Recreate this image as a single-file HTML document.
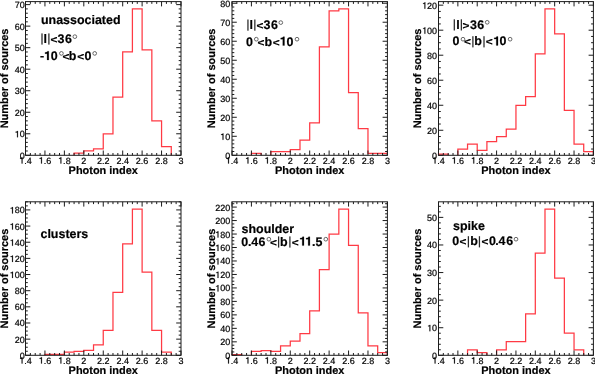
<!DOCTYPE html><html><head><meta charset="utf-8"><style>html,body{margin:0;padding:0;background:#fff;}svg{display:block;will-change:transform;}text{font-family:"Liberation Sans",sans-serif;text-rendering:geometricPrecision;stroke:#000;stroke-width:0.2px;}text.b{stroke-width:0.2px;}</style></head><body>
<svg width="595" height="374" viewBox="0 0 595 374">
<rect width="595" height="374" fill="#fff"/>
<path d="M74.09 155.30 L74.09 153.15 L83.81 153.15 L83.81 150.99 L93.53 150.99 L93.53 148.84 L103.25 148.84 L103.25 133.77 L112.97 133.77 L112.97 97.18 L122.69 97.18 L122.69 51.97 L132.41 51.97 L132.41 8.92 L142.12 8.92 L142.12 49.82 L151.84 49.82 L151.84 120.86 L161.56 120.86 L161.56 146.69 L171.28 146.69 L171.28 155.30" fill="none" stroke="#ff3a44" stroke-width="1.25"/>
<path d="M25.50 155.30 V150.50 M25.50 1.60 V6.40 M30.36 155.30 V153.00 M30.36 1.60 V3.90 M35.22 155.30 V153.00 M35.22 1.60 V3.90 M40.08 155.30 V153.00 M40.08 1.60 V3.90 M44.94 155.30 V150.50 M44.94 1.60 V6.40 M49.80 155.30 V153.00 M49.80 1.60 V3.90 M54.66 155.30 V153.00 M54.66 1.60 V3.90 M59.52 155.30 V153.00 M59.52 1.60 V3.90 M64.38 155.30 V150.50 M64.38 1.60 V6.40 M69.23 155.30 V153.00 M69.23 1.60 V3.90 M74.09 155.30 V153.00 M74.09 1.60 V3.90 M78.95 155.30 V153.00 M78.95 1.60 V3.90 M83.81 155.30 V150.50 M83.81 1.60 V6.40 M88.67 155.30 V153.00 M88.67 1.60 V3.90 M93.53 155.30 V153.00 M93.53 1.60 V3.90 M98.39 155.30 V153.00 M98.39 1.60 V3.90 M103.25 155.30 V150.50 M103.25 1.60 V6.40 M108.11 155.30 V153.00 M108.11 1.60 V3.90 M112.97 155.30 V153.00 M112.97 1.60 V3.90 M117.83 155.30 V153.00 M117.83 1.60 V3.90 M122.69 155.30 V150.50 M122.69 1.60 V6.40 M127.55 155.30 V153.00 M127.55 1.60 V3.90 M132.41 155.30 V153.00 M132.41 1.60 V3.90 M137.27 155.30 V153.00 M137.27 1.60 V3.90 M142.12 155.30 V150.50 M142.12 1.60 V6.40 M146.98 155.30 V153.00 M146.98 1.60 V3.90 M151.84 155.30 V153.00 M151.84 1.60 V3.90 M156.70 155.30 V153.00 M156.70 1.60 V3.90 M161.56 155.30 V150.50 M161.56 1.60 V6.40 M166.42 155.30 V153.00 M166.42 1.60 V3.90 M171.28 155.30 V153.00 M171.28 1.60 V3.90 M176.14 155.30 V153.00 M176.14 1.60 V3.90 M181.00 155.30 V150.50 M181.00 1.60 V6.40 M25.50 155.30 H30.30 M181.00 155.30 H176.20 M25.50 150.99 H27.80 M181.00 150.99 H178.70 M25.50 146.69 H27.80 M181.00 146.69 H178.70 M25.50 142.38 H27.80 M181.00 142.38 H178.70 M25.50 138.08 H27.80 M181.00 138.08 H178.70 M25.50 133.77 H30.30 M181.00 133.77 H176.20 M25.50 129.47 H27.80 M181.00 129.47 H178.70 M25.50 125.16 H27.80 M181.00 125.16 H178.70 M25.50 120.86 H27.80 M181.00 120.86 H178.70 M25.50 116.55 H27.80 M181.00 116.55 H178.70 M25.50 112.25 H30.30 M181.00 112.25 H176.20 M25.50 107.94 H27.80 M181.00 107.94 H178.70 M25.50 103.64 H27.80 M181.00 103.64 H178.70 M25.50 99.33 H27.80 M181.00 99.33 H178.70 M25.50 95.03 H27.80 M181.00 95.03 H178.70 M25.50 90.72 H30.30 M181.00 90.72 H176.20 M25.50 86.41 H27.80 M181.00 86.41 H178.70 M25.50 82.11 H27.80 M181.00 82.11 H178.70 M25.50 77.80 H27.80 M181.00 77.80 H178.70 M25.50 73.50 H27.80 M181.00 73.50 H178.70 M25.50 69.19 H30.30 M181.00 69.19 H176.20 M25.50 64.89 H27.80 M181.00 64.89 H178.70 M25.50 60.58 H27.80 M181.00 60.58 H178.70 M25.50 56.28 H27.80 M181.00 56.28 H178.70 M25.50 51.97 H27.80 M181.00 51.97 H178.70 M25.50 47.67 H30.30 M181.00 47.67 H176.20 M25.50 43.36 H27.80 M181.00 43.36 H178.70 M25.50 39.06 H27.80 M181.00 39.06 H178.70 M25.50 34.75 H27.80 M181.00 34.75 H178.70 M25.50 30.45 H27.80 M181.00 30.45 H178.70 M25.50 26.14 H30.30 M181.00 26.14 H176.20 M25.50 21.84 H27.80 M181.00 21.84 H178.70 M25.50 17.53 H27.80 M181.00 17.53 H178.70 M25.50 13.22 H27.80 M181.00 13.22 H178.70 M25.50 8.92 H27.80 M181.00 8.92 H178.70 M25.50 4.61 H30.30 M181.00 4.61 H176.20" fill="none" stroke="#1c1c1c" stroke-width="1.0"/>
<rect x="25.5" y="1.6" width="155.50" height="153.70" fill="none" stroke="#1c1c1c" stroke-width="1.0"/>
<text x="24.25 26.75" y="163.50" font-size="9.0">.4</text><path d="M21.64 163.50 L22.48 163.50 L22.48 157.17 L21.82 157.17 L21.64 157.52 L21.27 157.81 L20.77 157.95 L20.15 157.99 L20.15 158.64 L21.64 158.64 Z" fill="#000" stroke="#000" stroke-width="0.2"/>
<text x="43.69 46.19" y="163.50" font-size="9.0">.6</text><path d="M41.08 163.50 L41.91 163.50 L41.91 157.17 L41.26 157.17 L41.08 157.52 L40.71 157.81 L40.21 157.95 L39.59 157.99 L39.59 158.64 L41.08 158.64 Z" fill="#000" stroke="#000" stroke-width="0.2"/>
<text x="63.12 65.63" y="163.50" font-size="9.0">.8</text><path d="M60.51 163.50 L61.35 163.50 L61.35 157.17 L60.69 157.17 L60.51 157.52 L60.14 157.81 L59.65 157.95 L59.03 157.99 L59.03 158.64 L60.51 158.64 Z" fill="#000" stroke="#000" stroke-width="0.2"/>
<text x="83.81" y="163.50" font-size="9.0" text-anchor="middle">2</text>
<text x="103.25" y="163.50" font-size="9.0" text-anchor="middle">2.2</text>
<text x="122.69" y="163.50" font-size="9.0" text-anchor="middle">2.4</text>
<text x="142.12" y="163.50" font-size="9.0" text-anchor="middle">2.6</text>
<text x="161.56" y="163.50" font-size="9.0" text-anchor="middle">2.8</text>
<text x="181.00" y="163.50" font-size="9.0" text-anchor="middle">3</text>
<text x="24.70" y="158.80" font-size="9.0" text-anchor="end">0</text>
<text x="19.70" y="137.27" font-size="9.0">0</text><path d="M17.09 137.27 L17.92 137.27 L17.92 130.95 L17.27 130.95 L17.09 131.30 L16.72 131.59 L16.22 131.72 L15.60 131.77 L15.60 132.41 L17.09 132.41 Z" fill="#000" stroke="#000" stroke-width="0.2"/>
<text x="24.70" y="115.75" font-size="9.0" text-anchor="end">20</text>
<text x="24.70" y="94.22" font-size="9.0" text-anchor="end">30</text>
<text x="24.70" y="72.69" font-size="9.0" text-anchor="end">40</text>
<text x="24.70" y="51.17" font-size="9.0" text-anchor="end">50</text>
<text x="24.70" y="29.64" font-size="9.0" text-anchor="end">60</text>
<text x="24.70" y="8.11" font-size="9.0" text-anchor="end">70</text>
<text x="103.25" y="174.30" font-size="10.95" font-weight="bold" class="b" text-anchor="middle">Photon index</text>
<text transform="translate(8.30,78.45) rotate(-90)" x="0" y="0" font-size="10.95" font-weight="bold" class="b" text-anchor="middle">Number of sources</text>
<path d="M251.42 155.30 L251.42 153.40 L261.14 153.40 L261.14 155.30 M270.85 155.30 L270.85 151.50 L280.56 151.50 L280.56 151.50 L290.27 151.50 L290.27 149.60 L299.99 149.60 L299.99 140.09 L309.70 140.09 L309.70 122.98 L319.41 122.98 L319.41 46.94 L329.12 46.94 L329.12 10.82 L338.84 10.82 L338.84 8.92 L348.55 8.92 L348.55 92.57 L358.26 92.57 L358.26 128.69 L367.97 128.69 L367.97 153.40 L377.69 153.40 L377.69 153.40 L387.40 153.40 L387.40 155.30" fill="none" stroke="#ff3a44" stroke-width="1.25"/>
<path d="M232.00 155.30 V150.50 M232.00 1.60 V6.40 M236.86 155.30 V153.00 M236.86 1.60 V3.90 M241.71 155.30 V153.00 M241.71 1.60 V3.90 M246.57 155.30 V153.00 M246.57 1.60 V3.90 M251.42 155.30 V150.50 M251.42 1.60 V6.40 M256.28 155.30 V153.00 M256.28 1.60 V3.90 M261.14 155.30 V153.00 M261.14 1.60 V3.90 M265.99 155.30 V153.00 M265.99 1.60 V3.90 M270.85 155.30 V150.50 M270.85 1.60 V6.40 M275.71 155.30 V153.00 M275.71 1.60 V3.90 M280.56 155.30 V153.00 M280.56 1.60 V3.90 M285.42 155.30 V153.00 M285.42 1.60 V3.90 M290.27 155.30 V150.50 M290.27 1.60 V6.40 M295.13 155.30 V153.00 M295.13 1.60 V3.90 M299.99 155.30 V153.00 M299.99 1.60 V3.90 M304.84 155.30 V153.00 M304.84 1.60 V3.90 M309.70 155.30 V150.50 M309.70 1.60 V6.40 M314.56 155.30 V153.00 M314.56 1.60 V3.90 M319.41 155.30 V153.00 M319.41 1.60 V3.90 M324.27 155.30 V153.00 M324.27 1.60 V3.90 M329.12 155.30 V150.50 M329.12 1.60 V6.40 M333.98 155.30 V153.00 M333.98 1.60 V3.90 M338.84 155.30 V153.00 M338.84 1.60 V3.90 M343.69 155.30 V153.00 M343.69 1.60 V3.90 M348.55 155.30 V150.50 M348.55 1.60 V6.40 M353.41 155.30 V153.00 M353.41 1.60 V3.90 M358.26 155.30 V153.00 M358.26 1.60 V3.90 M363.12 155.30 V153.00 M363.12 1.60 V3.90 M367.97 155.30 V150.50 M367.97 1.60 V6.40 M372.83 155.30 V153.00 M372.83 1.60 V3.90 M377.69 155.30 V153.00 M377.69 1.60 V3.90 M382.54 155.30 V153.00 M382.54 1.60 V3.90 M387.40 155.30 V150.50 M387.40 1.60 V6.40 M232.00 155.30 H236.80 M387.40 155.30 H382.60 M232.00 151.50 H234.30 M387.40 151.50 H385.10 M232.00 147.70 H234.30 M387.40 147.70 H385.10 M232.00 143.89 H234.30 M387.40 143.89 H385.10 M232.00 140.09 H234.30 M387.40 140.09 H385.10 M232.00 136.29 H236.80 M387.40 136.29 H382.60 M232.00 132.49 H234.30 M387.40 132.49 H385.10 M232.00 128.69 H234.30 M387.40 128.69 H385.10 M232.00 124.88 H234.30 M387.40 124.88 H385.10 M232.00 121.08 H234.30 M387.40 121.08 H385.10 M232.00 117.28 H236.80 M387.40 117.28 H382.60 M232.00 113.48 H234.30 M387.40 113.48 H385.10 M232.00 109.67 H234.30 M387.40 109.67 H385.10 M232.00 105.87 H234.30 M387.40 105.87 H385.10 M232.00 102.07 H234.30 M387.40 102.07 H385.10 M232.00 98.27 H236.80 M387.40 98.27 H382.60 M232.00 94.47 H234.30 M387.40 94.47 H385.10 M232.00 90.66 H234.30 M387.40 90.66 H385.10 M232.00 86.86 H234.30 M387.40 86.86 H385.10 M232.00 83.06 H234.30 M387.40 83.06 H385.10 M232.00 79.26 H236.80 M387.40 79.26 H382.60 M232.00 75.46 H234.30 M387.40 75.46 H385.10 M232.00 71.65 H234.30 M387.40 71.65 H385.10 M232.00 67.85 H234.30 M387.40 67.85 H385.10 M232.00 64.05 H234.30 M387.40 64.05 H385.10 M232.00 60.25 H236.80 M387.40 60.25 H382.60 M232.00 56.45 H234.30 M387.40 56.45 H385.10 M232.00 52.64 H234.30 M387.40 52.64 H385.10 M232.00 48.84 H234.30 M387.40 48.84 H385.10 M232.00 45.04 H234.30 M387.40 45.04 H385.10 M232.00 41.24 H236.80 M387.40 41.24 H382.60 M232.00 37.43 H234.30 M387.40 37.43 H385.10 M232.00 33.63 H234.30 M387.40 33.63 H385.10 M232.00 29.83 H234.30 M387.40 29.83 H385.10 M232.00 26.03 H234.30 M387.40 26.03 H385.10 M232.00 22.23 H236.80 M387.40 22.23 H382.60 M232.00 18.42 H234.30 M387.40 18.42 H385.10 M232.00 14.62 H234.30 M387.40 14.62 H385.10 M232.00 10.82 H234.30 M387.40 10.82 H385.10 M232.00 7.02 H234.30 M387.40 7.02 H385.10 M232.00 3.22 H236.80 M387.40 3.22 H382.60" fill="none" stroke="#1c1c1c" stroke-width="1.0"/>
<rect x="232.0" y="1.6" width="155.40" height="153.70" fill="none" stroke="#1c1c1c" stroke-width="1.0"/>
<text x="230.75 233.25" y="163.50" font-size="9.0">.4</text><path d="M228.14 163.50 L228.98 163.50 L228.98 157.17 L228.32 157.17 L228.14 157.52 L227.77 157.81 L227.28 157.95 L226.65 157.99 L226.65 158.64 L228.14 158.64 Z" fill="#000" stroke="#000" stroke-width="0.2"/>
<text x="250.17 252.68" y="163.50" font-size="9.0">.6</text><path d="M247.56 163.50 L248.40 163.50 L248.40 157.17 L247.74 157.17 L247.56 157.52 L247.19 157.81 L246.70 157.95 L246.08 157.99 L246.08 158.64 L247.56 158.64 Z" fill="#000" stroke="#000" stroke-width="0.2"/>
<text x="269.60 272.10" y="163.50" font-size="9.0">.8</text><path d="M266.99 163.50 L267.83 163.50 L267.83 157.17 L267.17 157.17 L266.99 157.52 L266.62 157.81 L266.12 157.95 L265.50 157.99 L265.50 158.64 L266.99 158.64 Z" fill="#000" stroke="#000" stroke-width="0.2"/>
<text x="290.27" y="163.50" font-size="9.0" text-anchor="middle">2</text>
<text x="309.70" y="163.50" font-size="9.0" text-anchor="middle">2.2</text>
<text x="329.12" y="163.50" font-size="9.0" text-anchor="middle">2.4</text>
<text x="348.55" y="163.50" font-size="9.0" text-anchor="middle">2.6</text>
<text x="367.97" y="163.50" font-size="9.0" text-anchor="middle">2.8</text>
<text x="387.40" y="163.50" font-size="9.0" text-anchor="middle">3</text>
<text x="230.20" y="158.80" font-size="9.0" text-anchor="end">0</text>
<text x="225.20" y="139.79" font-size="9.0">0</text><path d="M222.59 139.79 L223.42 139.79 L223.42 133.46 L222.77 133.46 L222.59 133.81 L222.22 134.10 L221.72 134.24 L221.10 134.28 L221.10 134.93 L222.59 134.93 Z" fill="#000" stroke="#000" stroke-width="0.2"/>
<text x="230.20" y="120.78" font-size="9.0" text-anchor="end">20</text>
<text x="230.20" y="101.77" font-size="9.0" text-anchor="end">30</text>
<text x="230.20" y="82.76" font-size="9.0" text-anchor="end">40</text>
<text x="230.20" y="63.75" font-size="9.0" text-anchor="end">50</text>
<text x="230.20" y="44.74" font-size="9.0" text-anchor="end">60</text>
<text x="230.20" y="25.73" font-size="9.0" text-anchor="end">70</text>
<text x="230.20" y="6.72" font-size="9.0" text-anchor="end">80</text>
<text x="309.70" y="174.30" font-size="10.95" font-weight="bold" class="b" text-anchor="middle">Photon index</text>
<text transform="translate(214.80,78.45) rotate(-90)" x="0" y="0" font-size="10.95" font-weight="bold" class="b" text-anchor="middle">Number of sources</text>
<path d="M438.50 155.30 L438.50 154.05 L448.18 154.05 L448.18 155.30 M457.86 155.30 L457.86 149.04 L467.54 149.04 L467.54 144.04 L477.22 144.04 L477.22 150.30 L486.91 150.30 L486.91 141.54 L496.59 141.54 L496.59 136.53 L506.27 136.53 L506.27 129.03 L515.95 129.03 L515.95 105.26 L525.63 105.26 L525.63 96.50 L535.31 96.50 L535.31 53.96 L544.99 53.96 L544.99 8.92 L554.67 8.92 L554.67 33.94 L564.36 33.94 L564.36 110.26 L574.04 110.26 L574.04 144.04 L583.72 144.04 L583.72 151.55 L593.40 151.55 L593.40 155.30" fill="none" stroke="#ff3a44" stroke-width="1.25"/>
<path d="M438.50 155.30 V150.50 M438.50 1.60 V6.40 M443.34 155.30 V153.00 M443.34 1.60 V3.90 M448.18 155.30 V153.00 M448.18 1.60 V3.90 M453.02 155.30 V153.00 M453.02 1.60 V3.90 M457.86 155.30 V150.50 M457.86 1.60 V6.40 M462.70 155.30 V153.00 M462.70 1.60 V3.90 M467.54 155.30 V153.00 M467.54 1.60 V3.90 M472.38 155.30 V153.00 M472.38 1.60 V3.90 M477.22 155.30 V150.50 M477.22 1.60 V6.40 M482.07 155.30 V153.00 M482.07 1.60 V3.90 M486.91 155.30 V153.00 M486.91 1.60 V3.90 M491.75 155.30 V153.00 M491.75 1.60 V3.90 M496.59 155.30 V150.50 M496.59 1.60 V6.40 M501.43 155.30 V153.00 M501.43 1.60 V3.90 M506.27 155.30 V153.00 M506.27 1.60 V3.90 M511.11 155.30 V153.00 M511.11 1.60 V3.90 M515.95 155.30 V150.50 M515.95 1.60 V6.40 M520.79 155.30 V153.00 M520.79 1.60 V3.90 M525.63 155.30 V153.00 M525.63 1.60 V3.90 M530.47 155.30 V153.00 M530.47 1.60 V3.90 M535.31 155.30 V150.50 M535.31 1.60 V6.40 M540.15 155.30 V153.00 M540.15 1.60 V3.90 M544.99 155.30 V153.00 M544.99 1.60 V3.90 M549.83 155.30 V153.00 M549.83 1.60 V3.90 M554.67 155.30 V150.50 M554.67 1.60 V6.40 M559.52 155.30 V153.00 M559.52 1.60 V3.90 M564.36 155.30 V153.00 M564.36 1.60 V3.90 M569.20 155.30 V153.00 M569.20 1.60 V3.90 M574.04 155.30 V150.50 M574.04 1.60 V6.40 M578.88 155.30 V153.00 M578.88 1.60 V3.90 M583.72 155.30 V153.00 M583.72 1.60 V3.90 M588.56 155.30 V153.00 M588.56 1.60 V3.90 M593.40 155.30 V150.50 M593.40 1.60 V6.40 M438.50 155.30 H443.30 M593.40 155.30 H588.60 M438.50 149.04 H440.80 M593.40 149.04 H591.10 M438.50 142.79 H440.80 M593.40 142.79 H591.10 M438.50 136.53 H440.80 M593.40 136.53 H591.10 M438.50 130.28 H443.30 M593.40 130.28 H588.60 M438.50 124.02 H440.80 M593.40 124.02 H591.10 M438.50 117.77 H440.80 M593.40 117.77 H591.10 M438.50 111.51 H440.80 M593.40 111.51 H591.10 M438.50 105.26 H443.30 M593.40 105.26 H588.60 M438.50 99.00 H440.80 M593.40 99.00 H591.10 M438.50 92.74 H440.80 M593.40 92.74 H591.10 M438.50 86.49 H440.80 M593.40 86.49 H591.10 M438.50 80.23 H443.30 M593.40 80.23 H588.60 M438.50 73.98 H440.80 M593.40 73.98 H591.10 M438.50 67.72 H440.80 M593.40 67.72 H591.10 M438.50 61.47 H440.80 M593.40 61.47 H591.10 M438.50 55.21 H443.30 M593.40 55.21 H588.60 M438.50 48.95 H440.80 M593.40 48.95 H591.10 M438.50 42.70 H440.80 M593.40 42.70 H591.10 M438.50 36.44 H440.80 M593.40 36.44 H591.10 M438.50 30.19 H443.30 M593.40 30.19 H588.60 M438.50 23.93 H440.80 M593.40 23.93 H591.10 M438.50 17.68 H440.80 M593.40 17.68 H591.10 M438.50 11.42 H440.80 M593.40 11.42 H591.10 M438.50 5.17 H443.30 M593.40 5.17 H588.60" fill="none" stroke="#1c1c1c" stroke-width="1.0"/>
<rect x="438.5" y="1.6" width="154.90" height="153.70" fill="none" stroke="#1c1c1c" stroke-width="1.0"/>
<text x="437.25 439.75" y="163.50" font-size="9.0">.4</text><path d="M434.64 163.50 L435.48 163.50 L435.48 157.17 L434.82 157.17 L434.64 157.52 L434.27 157.81 L433.77 157.95 L433.15 157.99 L433.15 158.64 L434.64 158.64 Z" fill="#000" stroke="#000" stroke-width="0.2"/>
<text x="456.61 459.11" y="163.50" font-size="9.0">.6</text><path d="M454.00 163.50 L454.84 163.50 L454.84 157.17 L454.18 157.17 L454.00 157.52 L453.63 157.81 L453.14 157.95 L452.52 157.99 L452.52 158.64 L454.00 158.64 Z" fill="#000" stroke="#000" stroke-width="0.2"/>
<text x="475.97 478.48" y="163.50" font-size="9.0">.8</text><path d="M473.36 163.50 L474.20 163.50 L474.20 157.17 L473.54 157.17 L473.36 157.52 L472.99 157.81 L472.50 157.95 L471.88 157.99 L471.88 158.64 L473.36 158.64 Z" fill="#000" stroke="#000" stroke-width="0.2"/>
<text x="496.59" y="163.50" font-size="9.0" text-anchor="middle">2</text>
<text x="515.95" y="163.50" font-size="9.0" text-anchor="middle">2.2</text>
<text x="535.31" y="163.50" font-size="9.0" text-anchor="middle">2.4</text>
<text x="554.67" y="163.50" font-size="9.0" text-anchor="middle">2.6</text>
<text x="574.04" y="163.50" font-size="9.0" text-anchor="middle">2.8</text>
<text x="593.40" y="163.50" font-size="9.0" text-anchor="middle">3</text>
<text x="437.10" y="158.80" font-size="9.0" text-anchor="end">0</text>
<text x="437.10" y="133.78" font-size="9.0" text-anchor="end">20</text>
<text x="437.10" y="108.76" font-size="9.0" text-anchor="end">40</text>
<text x="437.10" y="83.73" font-size="9.0" text-anchor="end">60</text>
<text x="437.10" y="58.71" font-size="9.0" text-anchor="end">80</text>
<text x="427.09 432.10" y="33.69" font-size="9.0">00</text><path d="M424.48 33.69 L425.32 33.69 L425.32 27.36 L424.66 27.36 L424.48 27.71 L424.11 28.00 L423.62 28.14 L423.00 28.18 L423.00 28.83 L424.48 28.83 Z" fill="#000" stroke="#000" stroke-width="0.2"/>
<text x="427.09 432.10" y="8.67" font-size="9.0">20</text><path d="M424.48 8.67 L425.32 8.67 L425.32 2.34 L424.66 2.34 L424.48 2.69 L424.11 2.98 L423.62 3.11 L423.00 3.16 L423.00 3.81 L424.48 3.81 Z" fill="#000" stroke="#000" stroke-width="0.2"/>
<text x="515.95" y="174.30" font-size="10.95" font-weight="bold" class="b" text-anchor="middle">Photon index</text>
<text transform="translate(421.30,78.45) rotate(-90)" x="0" y="0" font-size="10.95" font-weight="bold" class="b" text-anchor="middle">Number of sources</text>
<path d="M44.94 355.30 L44.94 354.49 L54.66 354.49 L54.66 354.49 L64.38 354.49 L64.38 352.07 L74.09 352.07 L74.09 351.26 L83.81 351.26 L83.81 350.45 L93.53 350.45 L93.53 344.80 L103.25 344.80 L103.25 330.26 L112.97 330.26 L112.97 292.30 L122.69 292.30 L122.69 243.84 L132.41 243.84 L132.41 209.11 L142.12 209.11 L142.12 272.11 L151.84 272.11 L151.84 330.26 L161.56 330.26 L161.56 352.07 L171.28 352.07 L171.28 355.30" fill="none" stroke="#ff3a44" stroke-width="1.25"/>
<path d="M25.50 355.30 V350.50 M25.50 201.80 V206.60 M30.36 355.30 V353.00 M30.36 201.80 V204.10 M35.22 355.30 V353.00 M35.22 201.80 V204.10 M40.08 355.30 V353.00 M40.08 201.80 V204.10 M44.94 355.30 V350.50 M44.94 201.80 V206.60 M49.80 355.30 V353.00 M49.80 201.80 V204.10 M54.66 355.30 V353.00 M54.66 201.80 V204.10 M59.52 355.30 V353.00 M59.52 201.80 V204.10 M64.38 355.30 V350.50 M64.38 201.80 V206.60 M69.23 355.30 V353.00 M69.23 201.80 V204.10 M74.09 355.30 V353.00 M74.09 201.80 V204.10 M78.95 355.30 V353.00 M78.95 201.80 V204.10 M83.81 355.30 V350.50 M83.81 201.80 V206.60 M88.67 355.30 V353.00 M88.67 201.80 V204.10 M93.53 355.30 V353.00 M93.53 201.80 V204.10 M98.39 355.30 V353.00 M98.39 201.80 V204.10 M103.25 355.30 V350.50 M103.25 201.80 V206.60 M108.11 355.30 V353.00 M108.11 201.80 V204.10 M112.97 355.30 V353.00 M112.97 201.80 V204.10 M117.83 355.30 V353.00 M117.83 201.80 V204.10 M122.69 355.30 V350.50 M122.69 201.80 V206.60 M127.55 355.30 V353.00 M127.55 201.80 V204.10 M132.41 355.30 V353.00 M132.41 201.80 V204.10 M137.27 355.30 V353.00 M137.27 201.80 V204.10 M142.12 355.30 V350.50 M142.12 201.80 V206.60 M146.98 355.30 V353.00 M146.98 201.80 V204.10 M151.84 355.30 V353.00 M151.84 201.80 V204.10 M156.70 355.30 V353.00 M156.70 201.80 V204.10 M161.56 355.30 V350.50 M161.56 201.80 V206.60 M166.42 355.30 V353.00 M166.42 201.80 V204.10 M171.28 355.30 V353.00 M171.28 201.80 V204.10 M176.14 355.30 V353.00 M176.14 201.80 V204.10 M181.00 355.30 V350.50 M181.00 201.80 V206.60 M25.50 355.30 H30.30 M181.00 355.30 H176.20 M25.50 351.26 H27.80 M181.00 351.26 H178.70 M25.50 347.22 H27.80 M181.00 347.22 H178.70 M25.50 343.18 H27.80 M181.00 343.18 H178.70 M25.50 339.15 H30.30 M181.00 339.15 H176.20 M25.50 335.11 H27.80 M181.00 335.11 H178.70 M25.50 331.07 H27.80 M181.00 331.07 H178.70 M25.50 327.03 H27.80 M181.00 327.03 H178.70 M25.50 322.99 H30.30 M181.00 322.99 H176.20 M25.50 318.95 H27.80 M181.00 318.95 H178.70 M25.50 314.92 H27.80 M181.00 314.92 H178.70 M25.50 310.88 H27.80 M181.00 310.88 H178.70 M25.50 306.84 H30.30 M181.00 306.84 H176.20 M25.50 302.80 H27.80 M181.00 302.80 H178.70 M25.50 298.76 H27.80 M181.00 298.76 H178.70 M25.50 294.72 H27.80 M181.00 294.72 H178.70 M25.50 290.69 H30.30 M181.00 290.69 H176.20 M25.50 286.65 H27.80 M181.00 286.65 H178.70 M25.50 282.61 H27.80 M181.00 282.61 H178.70 M25.50 278.57 H27.80 M181.00 278.57 H178.70 M25.50 274.53 H30.30 M181.00 274.53 H176.20 M25.50 270.49 H27.80 M181.00 270.49 H178.70 M25.50 266.45 H27.80 M181.00 266.45 H178.70 M25.50 262.42 H27.80 M181.00 262.42 H178.70 M25.50 258.38 H30.30 M181.00 258.38 H176.20 M25.50 254.34 H27.80 M181.00 254.34 H178.70 M25.50 250.30 H27.80 M181.00 250.30 H178.70 M25.50 246.26 H27.80 M181.00 246.26 H178.70 M25.50 242.22 H30.30 M181.00 242.22 H176.20 M25.50 238.19 H27.80 M181.00 238.19 H178.70 M25.50 234.15 H27.80 M181.00 234.15 H178.70 M25.50 230.11 H27.80 M181.00 230.11 H178.70 M25.50 226.07 H30.30 M181.00 226.07 H176.20 M25.50 222.03 H27.80 M181.00 222.03 H178.70 M25.50 217.99 H27.80 M181.00 217.99 H178.70 M25.50 213.96 H27.80 M181.00 213.96 H178.70 M25.50 209.92 H30.30 M181.00 209.92 H176.20 M25.50 205.88 H27.80 M181.00 205.88 H178.70 M25.50 201.84 H27.80 M181.00 201.84 H178.70" fill="none" stroke="#1c1c1c" stroke-width="1.0"/>
<rect x="25.5" y="201.8" width="155.50" height="153.50" fill="none" stroke="#1c1c1c" stroke-width="1.0"/>
<text x="24.25 26.75" y="363.50" font-size="9.0">.4</text><path d="M21.64 363.50 L22.48 363.50 L22.48 357.17 L21.82 357.17 L21.64 357.52 L21.27 357.81 L20.77 357.95 L20.15 357.99 L20.15 358.64 L21.64 358.64 Z" fill="#000" stroke="#000" stroke-width="0.2"/>
<text x="43.69 46.19" y="363.50" font-size="9.0">.6</text><path d="M41.08 363.50 L41.91 363.50 L41.91 357.17 L41.26 357.17 L41.08 357.52 L40.71 357.81 L40.21 357.95 L39.59 357.99 L39.59 358.64 L41.08 358.64 Z" fill="#000" stroke="#000" stroke-width="0.2"/>
<text x="63.12 65.63" y="363.50" font-size="9.0">.8</text><path d="M60.51 363.50 L61.35 363.50 L61.35 357.17 L60.69 357.17 L60.51 357.52 L60.14 357.81 L59.65 357.95 L59.03 357.99 L59.03 358.64 L60.51 358.64 Z" fill="#000" stroke="#000" stroke-width="0.2"/>
<text x="83.81" y="363.50" font-size="9.0" text-anchor="middle">2</text>
<text x="103.25" y="363.50" font-size="9.0" text-anchor="middle">2.2</text>
<text x="122.69" y="363.50" font-size="9.0" text-anchor="middle">2.4</text>
<text x="142.12" y="363.50" font-size="9.0" text-anchor="middle">2.6</text>
<text x="161.56" y="363.50" font-size="9.0" text-anchor="middle">2.8</text>
<text x="181.00" y="363.50" font-size="9.0" text-anchor="middle">3</text>
<text x="24.70" y="358.80" font-size="9.0" text-anchor="end">0</text>
<text x="24.70" y="342.65" font-size="9.0" text-anchor="end">20</text>
<text x="24.70" y="326.49" font-size="9.0" text-anchor="end">40</text>
<text x="24.70" y="310.34" font-size="9.0" text-anchor="end">60</text>
<text x="24.70" y="294.19" font-size="9.0" text-anchor="end">80</text>
<text x="14.69 19.70" y="278.03" font-size="9.0">00</text><path d="M12.08 278.03 L12.92 278.03 L12.92 271.70 L12.26 271.70 L12.08 272.06 L11.71 272.34 L11.22 272.48 L10.60 272.52 L10.60 273.17 L12.08 273.17 Z" fill="#000" stroke="#000" stroke-width="0.2"/>
<text x="14.69 19.70" y="261.88" font-size="9.0">20</text><path d="M12.08 261.88 L12.92 261.88 L12.92 255.55 L12.26 255.55 L12.08 255.90 L11.71 256.19 L11.22 256.33 L10.60 256.37 L10.60 257.02 L12.08 257.02 Z" fill="#000" stroke="#000" stroke-width="0.2"/>
<text x="14.69 19.70" y="245.72" font-size="9.0">40</text><path d="M12.08 245.72 L12.92 245.72 L12.92 239.40 L12.26 239.40 L12.08 239.75 L11.71 240.04 L11.22 240.17 L10.60 240.22 L10.60 240.86 L12.08 240.86 Z" fill="#000" stroke="#000" stroke-width="0.2"/>
<text x="14.69 19.70" y="229.57" font-size="9.0">60</text><path d="M12.08 229.57 L12.92 229.57 L12.92 223.24 L12.26 223.24 L12.08 223.59 L11.71 223.88 L11.22 224.02 L10.60 224.06 L10.60 224.71 L12.08 224.71 Z" fill="#000" stroke="#000" stroke-width="0.2"/>
<text x="14.69 19.70" y="213.42" font-size="9.0">80</text><path d="M12.08 213.42 L12.92 213.42 L12.92 207.09 L12.26 207.09 L12.08 207.44 L11.71 207.73 L11.22 207.86 L10.60 207.91 L10.60 208.56 L12.08 208.56 Z" fill="#000" stroke="#000" stroke-width="0.2"/>
<text x="103.25" y="374.30" font-size="10.95" font-weight="bold" class="b" text-anchor="middle">Photon index</text>
<text transform="translate(8.30,278.55) rotate(-90)" x="0" y="0" font-size="10.95" font-weight="bold" class="b" text-anchor="middle">Number of sources</text>
<path d="M232.00 355.30 L232.00 354.63 L241.71 354.63 L241.71 355.30 M251.42 355.30 L251.42 351.26 L261.14 351.26 L261.14 350.58 L270.85 350.58 L270.85 351.26 L280.56 351.26 L280.56 345.87 L290.27 345.87 L290.27 341.15 L299.99 341.15 L299.99 333.74 L309.70 333.74 L309.70 310.84 L319.41 310.84 L319.41 269.74 L329.12 269.74 L329.12 234.04 L338.84 234.04 L338.84 209.11 L348.55 209.11 L348.55 245.49 L358.26 245.49 L358.26 312.86 L367.97 312.86 L367.97 345.87 L377.69 345.87 L377.69 352.61 L387.40 352.61 L387.40 355.30" fill="none" stroke="#ff3a44" stroke-width="1.25"/>
<path d="M232.00 355.30 V350.50 M232.00 201.80 V206.60 M236.86 355.30 V353.00 M236.86 201.80 V204.10 M241.71 355.30 V353.00 M241.71 201.80 V204.10 M246.57 355.30 V353.00 M246.57 201.80 V204.10 M251.42 355.30 V350.50 M251.42 201.80 V206.60 M256.28 355.30 V353.00 M256.28 201.80 V204.10 M261.14 355.30 V353.00 M261.14 201.80 V204.10 M265.99 355.30 V353.00 M265.99 201.80 V204.10 M270.85 355.30 V350.50 M270.85 201.80 V206.60 M275.71 355.30 V353.00 M275.71 201.80 V204.10 M280.56 355.30 V353.00 M280.56 201.80 V204.10 M285.42 355.30 V353.00 M285.42 201.80 V204.10 M290.27 355.30 V350.50 M290.27 201.80 V206.60 M295.13 355.30 V353.00 M295.13 201.80 V204.10 M299.99 355.30 V353.00 M299.99 201.80 V204.10 M304.84 355.30 V353.00 M304.84 201.80 V204.10 M309.70 355.30 V350.50 M309.70 201.80 V206.60 M314.56 355.30 V353.00 M314.56 201.80 V204.10 M319.41 355.30 V353.00 M319.41 201.80 V204.10 M324.27 355.30 V353.00 M324.27 201.80 V204.10 M329.12 355.30 V350.50 M329.12 201.80 V206.60 M333.98 355.30 V353.00 M333.98 201.80 V204.10 M338.84 355.30 V353.00 M338.84 201.80 V204.10 M343.69 355.30 V353.00 M343.69 201.80 V204.10 M348.55 355.30 V350.50 M348.55 201.80 V206.60 M353.41 355.30 V353.00 M353.41 201.80 V204.10 M358.26 355.30 V353.00 M358.26 201.80 V204.10 M363.12 355.30 V353.00 M363.12 201.80 V204.10 M367.97 355.30 V350.50 M367.97 201.80 V206.60 M372.83 355.30 V353.00 M372.83 201.80 V204.10 M377.69 355.30 V353.00 M377.69 201.80 V204.10 M382.54 355.30 V353.00 M382.54 201.80 V204.10 M387.40 355.30 V350.50 M387.40 201.80 V206.60 M232.00 355.30 H236.80 M387.40 355.30 H382.60 M232.00 351.93 H234.30 M387.40 351.93 H385.10 M232.00 348.56 H234.30 M387.40 348.56 H385.10 M232.00 345.19 H234.30 M387.40 345.19 H385.10 M232.00 341.83 H236.80 M387.40 341.83 H382.60 M232.00 338.46 H234.30 M387.40 338.46 H385.10 M232.00 335.09 H234.30 M387.40 335.09 H385.10 M232.00 331.72 H234.30 M387.40 331.72 H385.10 M232.00 328.35 H236.80 M387.40 328.35 H382.60 M232.00 324.98 H234.30 M387.40 324.98 H385.10 M232.00 321.62 H234.30 M387.40 321.62 H385.10 M232.00 318.25 H234.30 M387.40 318.25 H385.10 M232.00 314.88 H236.80 M387.40 314.88 H382.60 M232.00 311.51 H234.30 M387.40 311.51 H385.10 M232.00 308.14 H234.30 M387.40 308.14 H385.10 M232.00 304.77 H234.30 M387.40 304.77 H385.10 M232.00 301.40 H236.80 M387.40 301.40 H382.60 M232.00 298.04 H234.30 M387.40 298.04 H385.10 M232.00 294.67 H234.30 M387.40 294.67 H385.10 M232.00 291.30 H234.30 M387.40 291.30 H385.10 M232.00 287.93 H236.80 M387.40 287.93 H382.60 M232.00 284.56 H234.30 M387.40 284.56 H385.10 M232.00 281.19 H234.30 M387.40 281.19 H385.10 M232.00 277.83 H234.30 M387.40 277.83 H385.10 M232.00 274.46 H236.80 M387.40 274.46 H382.60 M232.00 271.09 H234.30 M387.40 271.09 H385.10 M232.00 267.72 H234.30 M387.40 267.72 H385.10 M232.00 264.35 H234.30 M387.40 264.35 H385.10 M232.00 260.98 H236.80 M387.40 260.98 H382.60 M232.00 257.62 H234.30 M387.40 257.62 H385.10 M232.00 254.25 H234.30 M387.40 254.25 H385.10 M232.00 250.88 H234.30 M387.40 250.88 H385.10 M232.00 247.51 H236.80 M387.40 247.51 H382.60 M232.00 244.14 H234.30 M387.40 244.14 H385.10 M232.00 240.77 H234.30 M387.40 240.77 H385.10 M232.00 237.40 H234.30 M387.40 237.40 H385.10 M232.00 234.04 H236.80 M387.40 234.04 H382.60 M232.00 230.67 H234.30 M387.40 230.67 H385.10 M232.00 227.30 H234.30 M387.40 227.30 H385.10 M232.00 223.93 H234.30 M387.40 223.93 H385.10 M232.00 220.56 H236.80 M387.40 220.56 H382.60 M232.00 217.19 H234.30 M387.40 217.19 H385.10 M232.00 213.83 H234.30 M387.40 213.83 H385.10 M232.00 210.46 H234.30 M387.40 210.46 H385.10 M232.00 207.09 H236.80 M387.40 207.09 H382.60 M232.00 203.72 H234.30 M387.40 203.72 H385.10" fill="none" stroke="#1c1c1c" stroke-width="1.0"/>
<rect x="232.0" y="201.8" width="155.40" height="153.50" fill="none" stroke="#1c1c1c" stroke-width="1.0"/>
<text x="230.75 233.25" y="363.50" font-size="9.0">.4</text><path d="M228.14 363.50 L228.98 363.50 L228.98 357.17 L228.32 357.17 L228.14 357.52 L227.77 357.81 L227.28 357.95 L226.65 357.99 L226.65 358.64 L228.14 358.64 Z" fill="#000" stroke="#000" stroke-width="0.2"/>
<text x="250.17 252.68" y="363.50" font-size="9.0">.6</text><path d="M247.56 363.50 L248.40 363.50 L248.40 357.17 L247.74 357.17 L247.56 357.52 L247.19 357.81 L246.70 357.95 L246.08 357.99 L246.08 358.64 L247.56 358.64 Z" fill="#000" stroke="#000" stroke-width="0.2"/>
<text x="269.60 272.10" y="363.50" font-size="9.0">.8</text><path d="M266.99 363.50 L267.83 363.50 L267.83 357.17 L267.17 357.17 L266.99 357.52 L266.62 357.81 L266.12 357.95 L265.50 357.99 L265.50 358.64 L266.99 358.64 Z" fill="#000" stroke="#000" stroke-width="0.2"/>
<text x="290.27" y="363.50" font-size="9.0" text-anchor="middle">2</text>
<text x="309.70" y="363.50" font-size="9.0" text-anchor="middle">2.2</text>
<text x="329.12" y="363.50" font-size="9.0" text-anchor="middle">2.4</text>
<text x="348.55" y="363.50" font-size="9.0" text-anchor="middle">2.6</text>
<text x="367.97" y="363.50" font-size="9.0" text-anchor="middle">2.8</text>
<text x="387.40" y="363.50" font-size="9.0" text-anchor="middle">3</text>
<text x="230.20" y="358.80" font-size="9.0" text-anchor="end">0</text>
<text x="230.20" y="345.33" font-size="9.0" text-anchor="end">20</text>
<text x="230.20" y="331.85" font-size="9.0" text-anchor="end">40</text>
<text x="230.20" y="318.38" font-size="9.0" text-anchor="end">60</text>
<text x="230.20" y="304.90" font-size="9.0" text-anchor="end">80</text>
<text x="220.19 225.20" y="291.43" font-size="9.0">00</text><path d="M217.58 291.43 L218.42 291.43 L218.42 285.10 L217.76 285.10 L217.58 285.46 L217.21 285.74 L216.72 285.88 L216.10 285.92 L216.10 286.57 L217.58 286.57 Z" fill="#000" stroke="#000" stroke-width="0.2"/>
<text x="220.19 225.20" y="277.96" font-size="9.0">20</text><path d="M217.58 277.96 L218.42 277.96 L218.42 271.63 L217.76 271.63 L217.58 271.98 L217.21 272.27 L216.72 272.40 L216.10 272.45 L216.10 273.10 L217.58 273.10 Z" fill="#000" stroke="#000" stroke-width="0.2"/>
<text x="220.19 225.20" y="264.48" font-size="9.0">40</text><path d="M217.58 264.48 L218.42 264.48 L218.42 258.16 L217.76 258.16 L217.58 258.51 L217.21 258.80 L216.72 258.93 L216.10 258.98 L216.10 259.62 L217.58 259.62 Z" fill="#000" stroke="#000" stroke-width="0.2"/>
<text x="220.19 225.20" y="251.01" font-size="9.0">60</text><path d="M217.58 251.01 L218.42 251.01 L218.42 244.68 L217.76 244.68 L217.58 245.03 L217.21 245.32 L216.72 245.46 L216.10 245.50 L216.10 246.15 L217.58 246.15 Z" fill="#000" stroke="#000" stroke-width="0.2"/>
<text x="220.19 225.20" y="237.54" font-size="9.0">80</text><path d="M217.58 237.54 L218.42 237.54 L218.42 231.21 L217.76 231.21 L217.58 231.56 L217.21 231.85 L216.72 231.98 L216.10 232.03 L216.10 232.68 L217.58 232.68 Z" fill="#000" stroke="#000" stroke-width="0.2"/>
<text x="230.20" y="224.06" font-size="9.0" text-anchor="end">200</text>
<text x="230.20" y="210.59" font-size="9.0" text-anchor="end">220</text>
<text x="309.70" y="374.30" font-size="10.95" font-weight="bold" class="b" text-anchor="middle">Photon index</text>
<text transform="translate(214.80,278.55) rotate(-90)" x="0" y="0" font-size="10.95" font-weight="bold" class="b" text-anchor="middle">Number of sources</text>
<path d="M467.54 355.30 L467.54 349.78 L477.22 349.78 L477.22 352.54 L486.91 352.54 L486.91 355.30 M496.59 355.30 L496.59 349.78 L506.27 349.78 L506.27 341.51 L515.95 341.51 L515.95 341.51 L525.63 341.51 L525.63 313.93 L535.31 313.93 L535.31 253.24 L544.99 253.24 L544.99 209.11 L554.67 209.11 L554.67 278.07 L564.36 278.07 L564.36 333.23 L574.04 333.23 L574.04 349.78 L583.72 349.78 L583.72 355.30" fill="none" stroke="#ff3a44" stroke-width="1.25"/>
<path d="M438.50 355.30 V350.50 M438.50 201.80 V206.60 M443.34 355.30 V353.00 M443.34 201.80 V204.10 M448.18 355.30 V353.00 M448.18 201.80 V204.10 M453.02 355.30 V353.00 M453.02 201.80 V204.10 M457.86 355.30 V350.50 M457.86 201.80 V206.60 M462.70 355.30 V353.00 M462.70 201.80 V204.10 M467.54 355.30 V353.00 M467.54 201.80 V204.10 M472.38 355.30 V353.00 M472.38 201.80 V204.10 M477.22 355.30 V350.50 M477.22 201.80 V206.60 M482.07 355.30 V353.00 M482.07 201.80 V204.10 M486.91 355.30 V353.00 M486.91 201.80 V204.10 M491.75 355.30 V353.00 M491.75 201.80 V204.10 M496.59 355.30 V350.50 M496.59 201.80 V206.60 M501.43 355.30 V353.00 M501.43 201.80 V204.10 M506.27 355.30 V353.00 M506.27 201.80 V204.10 M511.11 355.30 V353.00 M511.11 201.80 V204.10 M515.95 355.30 V350.50 M515.95 201.80 V206.60 M520.79 355.30 V353.00 M520.79 201.80 V204.10 M525.63 355.30 V353.00 M525.63 201.80 V204.10 M530.47 355.30 V353.00 M530.47 201.80 V204.10 M535.31 355.30 V350.50 M535.31 201.80 V206.60 M540.15 355.30 V353.00 M540.15 201.80 V204.10 M544.99 355.30 V353.00 M544.99 201.80 V204.10 M549.83 355.30 V353.00 M549.83 201.80 V204.10 M554.67 355.30 V350.50 M554.67 201.80 V206.60 M559.52 355.30 V353.00 M559.52 201.80 V204.10 M564.36 355.30 V353.00 M564.36 201.80 V204.10 M569.20 355.30 V353.00 M569.20 201.80 V204.10 M574.04 355.30 V350.50 M574.04 201.80 V206.60 M578.88 355.30 V353.00 M578.88 201.80 V204.10 M583.72 355.30 V353.00 M583.72 201.80 V204.10 M588.56 355.30 V353.00 M588.56 201.80 V204.10 M593.40 355.30 V350.50 M593.40 201.80 V206.60 M438.50 355.30 H443.30 M593.40 355.30 H588.60 M438.50 349.78 H440.80 M593.40 349.78 H591.10 M438.50 344.27 H440.80 M593.40 344.27 H591.10 M438.50 338.75 H440.80 M593.40 338.75 H591.10 M438.50 333.23 H440.80 M593.40 333.23 H591.10 M438.50 327.72 H443.30 M593.40 327.72 H588.60 M438.50 322.20 H440.80 M593.40 322.20 H591.10 M438.50 316.68 H440.80 M593.40 316.68 H591.10 M438.50 311.17 H440.80 M593.40 311.17 H591.10 M438.50 305.65 H440.80 M593.40 305.65 H591.10 M438.50 300.13 H443.30 M593.40 300.13 H588.60 M438.50 294.62 H440.80 M593.40 294.62 H591.10 M438.50 289.10 H440.80 M593.40 289.10 H591.10 M438.50 283.58 H440.80 M593.40 283.58 H591.10 M438.50 278.07 H440.80 M593.40 278.07 H591.10 M438.50 272.55 H443.30 M593.40 272.55 H588.60 M438.50 267.03 H440.80 M593.40 267.03 H591.10 M438.50 261.52 H440.80 M593.40 261.52 H591.10 M438.50 256.00 H440.80 M593.40 256.00 H591.10 M438.50 250.48 H440.80 M593.40 250.48 H591.10 M438.50 244.97 H443.30 M593.40 244.97 H588.60 M438.50 239.45 H440.80 M593.40 239.45 H591.10 M438.50 233.93 H440.80 M593.40 233.93 H591.10 M438.50 228.42 H440.80 M593.40 228.42 H591.10 M438.50 222.90 H440.80 M593.40 222.90 H591.10 M438.50 217.38 H443.30 M593.40 217.38 H588.60 M438.50 211.87 H440.80 M593.40 211.87 H591.10 M438.50 206.35 H440.80 M593.40 206.35 H591.10" fill="none" stroke="#1c1c1c" stroke-width="1.0"/>
<rect x="438.5" y="201.8" width="154.90" height="153.50" fill="none" stroke="#1c1c1c" stroke-width="1.0"/>
<text x="437.25 439.75" y="363.50" font-size="9.0">.4</text><path d="M434.64 363.50 L435.48 363.50 L435.48 357.17 L434.82 357.17 L434.64 357.52 L434.27 357.81 L433.77 357.95 L433.15 357.99 L433.15 358.64 L434.64 358.64 Z" fill="#000" stroke="#000" stroke-width="0.2"/>
<text x="456.61 459.11" y="363.50" font-size="9.0">.6</text><path d="M454.00 363.50 L454.84 363.50 L454.84 357.17 L454.18 357.17 L454.00 357.52 L453.63 357.81 L453.14 357.95 L452.52 357.99 L452.52 358.64 L454.00 358.64 Z" fill="#000" stroke="#000" stroke-width="0.2"/>
<text x="475.97 478.48" y="363.50" font-size="9.0">.8</text><path d="M473.36 363.50 L474.20 363.50 L474.20 357.17 L473.54 357.17 L473.36 357.52 L472.99 357.81 L472.50 357.95 L471.88 357.99 L471.88 358.64 L473.36 358.64 Z" fill="#000" stroke="#000" stroke-width="0.2"/>
<text x="496.59" y="363.50" font-size="9.0" text-anchor="middle">2</text>
<text x="515.95" y="363.50" font-size="9.0" text-anchor="middle">2.2</text>
<text x="535.31" y="363.50" font-size="9.0" text-anchor="middle">2.4</text>
<text x="554.67" y="363.50" font-size="9.0" text-anchor="middle">2.6</text>
<text x="574.04" y="363.50" font-size="9.0" text-anchor="middle">2.8</text>
<text x="593.40" y="363.50" font-size="9.0" text-anchor="middle">3</text>
<text x="437.10" y="358.80" font-size="9.0" text-anchor="end">0</text>
<text x="432.10" y="331.22" font-size="9.0">0</text><path d="M429.49 331.22 L430.32 331.22 L430.32 324.89 L429.67 324.89 L429.49 325.24 L429.12 325.53 L428.62 325.66 L428.00 325.71 L428.00 326.36 L429.49 326.36 Z" fill="#000" stroke="#000" stroke-width="0.2"/>
<text x="437.10" y="303.63" font-size="9.0" text-anchor="end">20</text>
<text x="437.10" y="276.05" font-size="9.0" text-anchor="end">30</text>
<text x="437.10" y="248.47" font-size="9.0" text-anchor="end">40</text>
<text x="437.10" y="220.88" font-size="9.0" text-anchor="end">50</text>
<text x="515.95" y="374.30" font-size="10.95" font-weight="bold" class="b" text-anchor="middle">Photon index</text>
<text transform="translate(421.30,278.55) rotate(-90)" x="0" y="0" font-size="10.95" font-weight="bold" class="b" text-anchor="middle">Number of sources</text>
<text x="41" y="23.5" font-size="12.45" font-weight="bold" class="b">unassociated</text>
<text x="43.58 57.57 65.03" y="42.6" font-size="12.45" font-weight="bold" class="b">l36</text><rect x="41.38" y="33.40" width="1.25" height="11.2" fill="#2a2a2a"/><rect x="48.27" y="33.40" width="1.25" height="11.2" fill="#2a2a2a"/><text transform="translate(50.44,42.6) scale(0.95,0.8)" x="0" y="0" font-size="12.45" font-weight="bold" class="b">&lt;</text><circle cx="74.85" cy="36.65" r="1.85" fill="none" stroke="#3a3a3a" stroke-width="0.75"/>
<text x="39.93 50.65 68.84 84.55" y="60.0" font-size="12.45" font-weight="bold" class="b">-0b0</text><path d="M47.06 60.00 L48.82 60.00 L48.82 51.16 L47.45 51.16 L47.23 51.63 L46.79 52.03 L46.11 52.31 L44.98 52.43 L44.98 53.71 L47.06 53.71 Z" fill="#000" stroke="#000" stroke-width="0.2"/><circle cx="61.4" cy="53.4" r="1.85" fill="none" stroke="#3a3a3a" stroke-width="0.75"/><text transform="translate(62.44,60.0) scale(0.95,0.8)" x="0" y="0" font-size="12.45" font-weight="bold" class="b">&lt;</text><text transform="translate(77.34,60.0) scale(0.95,0.8)" x="0" y="0" font-size="12.45" font-weight="bold" class="b">&lt;</text><circle cx="94.7" cy="53.4" r="1.85" fill="none" stroke="#3a3a3a" stroke-width="0.75"/>
<text x="249.53 263.52 270.98" y="28.7" font-size="12.45" font-weight="bold" class="b">l36</text><rect x="247.32" y="19.50" width="1.25" height="11.2" fill="#2a2a2a"/><rect x="254.22" y="19.50" width="1.25" height="11.2" fill="#2a2a2a"/><text transform="translate(256.39,28.7) scale(0.95,0.8)" x="0" y="0" font-size="12.45" font-weight="bold" class="b">&lt;</text><circle cx="280.8" cy="22.6" r="1.85" fill="none" stroke="#3a3a3a" stroke-width="0.75"/>
<text x="245.95 264.44 286.45" y="45.5" font-size="12.45" font-weight="bold" class="b">0b0</text><circle cx="256.3" cy="39.2" r="1.85" fill="none" stroke="#3a3a3a" stroke-width="0.75"/><text transform="translate(257.44,45.5) scale(0.95,0.8)" x="0" y="0" font-size="12.45" font-weight="bold" class="b">&lt;</text><text transform="translate(272.64,45.5) scale(0.95,0.8)" x="0" y="0" font-size="12.45" font-weight="bold" class="b">&lt;</text><path d="M282.76 45.50 L284.52 45.50 L284.52 36.66 L283.15 36.66 L282.93 37.13 L282.49 37.53 L281.81 37.81 L280.68 37.93 L280.68 39.21 L282.76 39.21 Z" fill="#000" stroke="#000" stroke-width="0.2"/><circle cx="297.0" cy="39.2" r="1.85" fill="none" stroke="#3a3a3a" stroke-width="0.75"/>
<text x="456.13 470.12 477.23" y="28.5" font-size="12.45" font-weight="bold" class="b">l36</text><rect x="453.68" y="19.30" width="1.25" height="11.2" fill="#2a2a2a"/><rect x="460.73" y="19.30" width="1.25" height="11.2" fill="#2a2a2a"/><text transform="translate(462.54,28.5) scale(0.95,0.8)" x="0" y="0" font-size="12.45" font-weight="bold" class="b">&gt;</text><circle cx="487.2" cy="22.3" r="1.85" fill="none" stroke="#3a3a3a" stroke-width="0.75"/>
<text x="452.40 474.29 499.55" y="45.4" font-size="12.45" font-weight="bold" class="b">0b0</text><circle cx="463.0" cy="39.2" r="1.85" fill="none" stroke="#3a3a3a" stroke-width="0.75"/><text transform="translate(463.94,45.4) scale(0.95,0.8)" x="0" y="0" font-size="12.45" font-weight="bold" class="b">&lt;</text><rect x="472.27" y="36.20" width="1.25" height="11.2" fill="#2a2a2a"/><rect x="483.38" y="36.20" width="1.25" height="11.2" fill="#2a2a2a"/><text transform="translate(485.64,45.4) scale(0.95,0.8)" x="0" y="0" font-size="12.45" font-weight="bold" class="b">&lt;</text><path d="M496.26 45.40 L498.02 45.40 L498.02 36.56 L496.65 36.56 L496.43 37.03 L495.99 37.43 L495.31 37.71 L494.18 37.83 L494.18 39.11 L496.26 39.11 Z" fill="#000" stroke="#000" stroke-width="0.2"/><circle cx="510.1" cy="39.2" r="1.85" fill="none" stroke="#3a3a3a" stroke-width="0.75"/>
<text x="40.5" y="238.2" font-size="12.45" font-weight="bold" class="b">clusters</text>
<text x="241.6" y="232.5" font-size="12.45" font-weight="bold" class="b">shoulder</text>
<text x="241.15 248.03 251.18 258.53 280.04 312.03 315.52" y="245.6" font-size="12.45" font-weight="bold" class="b">0.46b.5</text><circle cx="268.85" cy="239.2" r="1.85" fill="none" stroke="#3a3a3a" stroke-width="0.75"/><text transform="translate(270.04,245.6) scale(0.95,0.8)" x="0" y="0" font-size="12.45" font-weight="bold" class="b">&lt;</text><rect x="277.98" y="236.40" width="1.25" height="11.2" fill="#2a2a2a"/><rect x="289.27" y="236.40" width="1.25" height="11.2" fill="#2a2a2a"/><text transform="translate(291.74,245.6) scale(0.95,0.8)" x="0" y="0" font-size="12.45" font-weight="bold" class="b">&lt;</text><path d="M302.21 245.60 L303.97 245.60 L303.97 236.76 L302.60 236.76 L302.38 237.23 L301.94 237.63 L301.26 237.91 L300.13 238.03 L300.13 239.31 L302.21 239.31 Z" fill="#000" stroke="#000" stroke-width="0.2"/><path d="M308.16 245.60 L309.92 245.60 L309.92 236.76 L308.55 236.76 L308.33 237.23 L307.89 237.63 L307.21 237.91 L306.08 238.03 L306.08 239.31 L308.16 239.31 Z" fill="#000" stroke="#000" stroke-width="0.2"/><circle cx="325.8" cy="239.2" r="1.85" fill="none" stroke="#3a3a3a" stroke-width="0.75"/>
<text x="453" y="230.3" font-size="12.45" font-weight="bold" class="b">spike</text>
<text x="452.25 470.14 488.90 495.28 498.53 506.23" y="245.4" font-size="12.45" font-weight="bold" class="b">0b0.46</text><text transform="translate(459.54,245.4) scale(0.95,0.8)" x="0" y="0" font-size="12.45" font-weight="bold" class="b">&lt;</text><rect x="467.77" y="236.20" width="1.25" height="11.2" fill="#2a2a2a"/><rect x="478.82" y="236.20" width="1.25" height="11.2" fill="#2a2a2a"/><text transform="translate(481.44,245.4) scale(0.95,0.8)" x="0" y="0" font-size="12.45" font-weight="bold" class="b">&lt;</text><circle cx="516.0" cy="239.2" r="1.85" fill="none" stroke="#3a3a3a" stroke-width="0.75"/>
</svg></body></html>
